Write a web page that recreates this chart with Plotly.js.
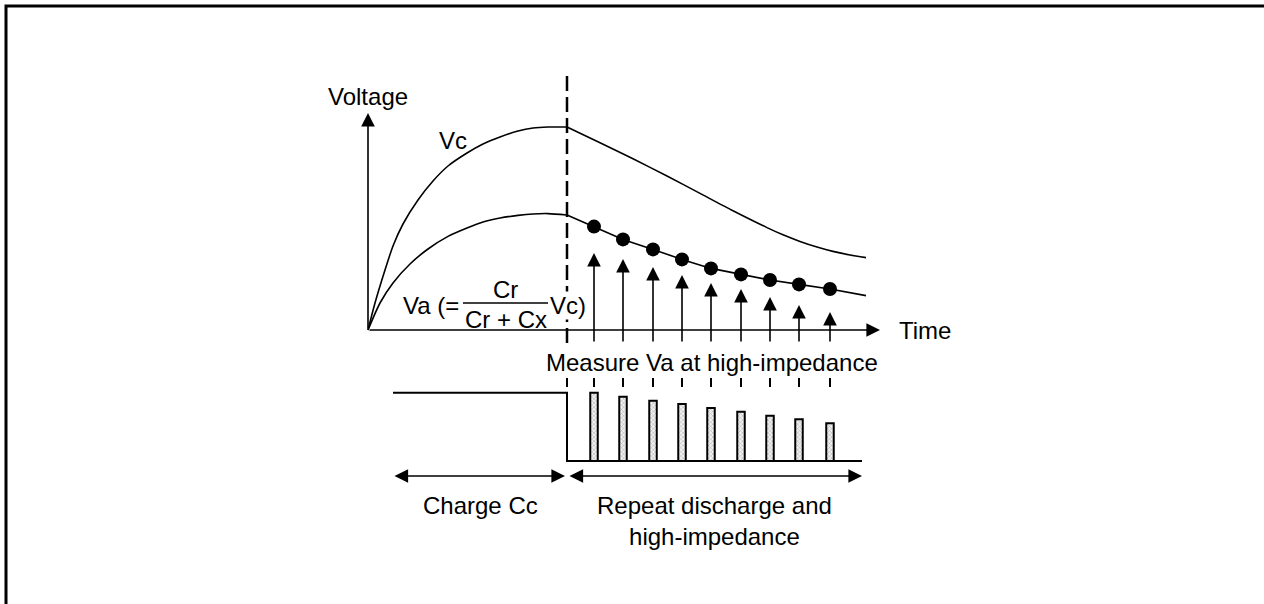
<!DOCTYPE html>
<html>
<head>
<meta charset="utf-8">
<script src="https://cdn.plot.ly/plotly-3.0.1.min.js"></script>
<style>html,body{margin:0;padding:0;background:#fff;}#chart{width:1264px;height:604px;}</style>
</head>
<body>
<div id="chart"></div>
<script>
// ---- data (time units, voltage units) ----
const tSwitch = 19.9;                 // end of charging / start of discharge
const tEnd = 49.8;
const vcRiseT = [0, 0.7, 1.7, 2.5, 3.5, 5, 6.5, 8, 9.9, 11.5, 13.2, 15, 16.5, 18, 19.9];
const vcRiseV = [0, 13.5, 30, 42, 53, 65, 74.5, 82, 88.5, 93, 96.5, 99.5, 101, 101.5, 101.5];
const vcFallT = [19.9, 23.2, 26.5, 29.9, 33.2, 36.5, 39.9, 41.5, 43.2, 44.9, 46.5, 48.2, 49.8];
const vcFallV = [101.5, 93.6, 85.6, 77, 68.3, 59.6, 51.2, 47.6, 44.3, 41.5, 39.3, 37.5, 36.2];
const vaRiseT = [0, 1.2, 2.5, 4.2, 6.0, 8, 9.9, 11.5, 13.2, 15, 16.5, 18, 19.9];
const vaRiseV = [0, 13.5, 23.5, 33, 40.5, 46.8, 51, 54, 56, 57.3, 58, 58.2, 57.5];
const tMeasure = [22.6, 25.5, 28.5, 31.4, 34.3, 37.3, 40.2, 43.1, 46.2];
const vaMeasured = [51.7, 45.3, 40.3, 35.3, 30.8, 27.8, 25, 22.8, 20.5];
const vaEndValue = 17.2;
const arrowTop = [38.5, 35.5, 31.5, 27.5, 23.5, 20.5, 16.5, 12.5, 9];
const pulseHeight = [68.3, 64.3, 60.3, 57, 53, 49.3, 45.3, 41.7, 37.7];
const chargeLevel = 68.3;
const chargeStart = 2.5;
const pulseEnd = 49.4;
const labels = {
  y: 'Voltage', x: 'Time', vc: 'Vc', measure: 'Measure Va at high-impedance',
  charge: 'Charge Cc', repeat: 'Repeat discharge and<br>high-impedance',
  vaLeft: 'Va (=', num: 'Cr', den: 'Cr + Cx', vaRight: 'Vc)'
};

const FONT = {family: 'Liberation Sans, Arial, sans-serif', size: 24, color: '#000'};
const K = '#000';

const traces = [
  {x: vcRiseT, y: vcRiseV, mode: 'lines', line: {color: K, width: 1.6, shape: 'spline', smoothing: 0.7}},
  {x: vcFallT, y: vcFallV, mode: 'lines', line: {color: K, width: 1.6, shape: 'spline', smoothing: 0.7}},
  {x: vaRiseT, y: vaRiseV, mode: 'lines', line: {color: K, width: 1.6, shape: 'spline', smoothing: 0.7}},
  {x: [tSwitch].concat(tMeasure, [tEnd]), y: [vaRiseV[vaRiseV.length-1]].concat(vaMeasured, [vaEndValue]),
   mode: 'lines', line: {color: K, width: 1.6}},
  {x: tMeasure, y: vaMeasured, mode: 'markers', marker: {color: K, size: 14, line: {width: 0}}},
  // charging level / discharge base waveform
  {x: [chargeStart, tSwitch, tSwitch, pulseEnd], y: [chargeLevel, chargeLevel, 0, 0], yaxis: 'y2',
   mode: 'lines', line: {color: K, width: 2}},
  {type: 'bar', x: tMeasure, y: pulseHeight, yaxis: 'y2', width: 0.75,
   marker: {color: '#ffffff', line: {color: K, width: 2},
            pattern: {shape: 'x', fgcolor: '#a8a8a8', bgcolor: '#f2f2f2', size: 3, solidity: 0.3}}}
];

const shapes = [
  {type: 'rect', xref: 'paper', yref: 'paper', x0: 6/1264, x1: 1.05, y0: -0.05, y1: 1 - 6/604,
   line: {color: K, width: 3}, fillcolor: 'rgba(0,0,0,0)'},
  {type: 'line', xref: 'x', yref: 'y', x0: tSwitch, x1: tSwitch, y0: -6.5, y1: 129,
   line: {color: K, width: 2.5, dash: '15px,6px'}},
  {type: 'line', xref: 'x', yref: 'y', x0: 9.5, x1: 18.0, y0: 13.5, y1: 13.5, line: {color: K, width: 1.5}}
];
[tSwitch].concat(tMeasure).forEach(t => {
  shapes.push({type: 'line', xref: 'x', yref: 'y2', x0: t, x1: t, y0: 74, y1: 83, line: {color: K, width: 2}});
});

const ann = [];
function arrow(x0, y0, x1, y1, yref, side) {
  ann.push({x: x1, y: y1, ax: x0, ay: y0, xref: 'x', yref: yref, axref: 'x', ayref: yref,
    text: '', showarrow: true, arrowhead: 2, arrowsize: 1.7, arrowwidth: 1.6, arrowcolor: K,
    arrowside: side || 'end', standoff: 0, startstandoff: 0});
}
arrow(0, 0, 0, 108.5, 'y');
arrow(0, 0, 51.2, 0, 'y');
tMeasure.forEach((t, i) => arrow(t, -6.5, t, arrowTop[i], 'y'));
arrow(chargeStart, -15, tSwitch - 0.2, -15, 'y2', 'end+start');
arrow(tSwitch + 0.1, -15, pulseEnd, -15, 'y2', 'end+start');

function txt(s, x, y, xa, opts) {
  ann.push(Object.assign({x: x, y: y, xref: 'x', yref: 'y', text: s, showarrow: false,
    xanchor: xa || 'center', yanchor: 'middle', font: FONT}, opts || {}));
}
txt(labels.y, -0.05, 117);
txt(labels.vc, 8.5, 95);
txt(labels.x, 52.9, 0, 'left');
txt(labels.measure, 34.4, -16);
txt(labels.charge, 11.2, -87.5);
txt(labels.repeat, 34.6, -95.5);
txt(labels.vaLeft, 6.3, 12.5);
txt(labels.num, 13.75, 20.5);
txt(labels.den, 13.8, 5.5);
txt(labels.vaRight, 18.1, 12.5, 'left', {bgcolor: '#ffffff', borderpad: 0});

const layout = {
  width: 1264, height: 604, margin: {l: 0, r: 0, t: 0, b: 0},
  paper_bgcolor: '#fff', plot_bgcolor: '#fff', showlegend: false,
  xaxis: {range: [-36.8, 89.6], visible: false, fixedrange: true},
  yaxis: {range: [-137, 165], visible: false, fixedrange: true},
  yaxis2: {range: [-143, 461], visible: false, overlaying: 'y', fixedrange: true},
  shapes: shapes, annotations: ann, bargap: 0
};
Plotly.newPlot('chart', traces, layout, {displayModeBar: false, staticPlot: true});
</script>
</body>
</html>
